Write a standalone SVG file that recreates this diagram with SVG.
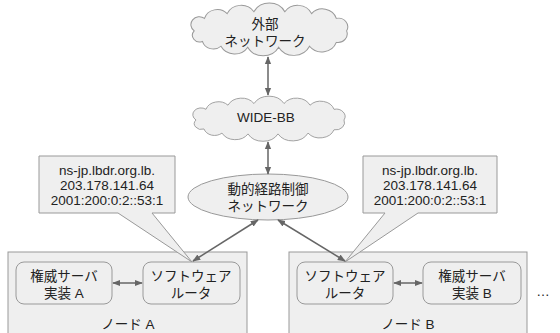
<svg xmlns="http://www.w3.org/2000/svg" width="560" height="333" viewBox="0 0 560 333">
<style>
text{font-family:"Liberation Sans","Noto Sans CJK JP",sans-serif;font-size:13.5px;fill:#222;text-anchor:middle;dominant-baseline:central}
.shape{fill:#efefef;stroke:#999;stroke-width:1}
.inner{fill:#efefef;stroke:#999;stroke-width:1}
.conn{stroke:#666;stroke-width:1.5;fill:none;marker-start:url(#ah);marker-end:url(#ah)}
</style>
<defs>
<marker id="ah" viewBox="0 0 10 10" refX="9" refY="5" markerWidth="8" markerHeight="8" markerUnits="userSpaceOnUse" orient="auto-start-reverse">
<path d="M0,1 L10,5 L0,9 Z" fill="#666"/>
</marker>
<path id="cloud" d="M6,28 A8,8 0 0 1 16,15 A13,13 0 0 1 38,10 A15,15 0 0 1 64,8 A17,17 0 0 1 94,8 A15,15 0 0 1 120,10 A14,14 0 0 1 144,15 A9,9 0 0 1 154,28 A9,9 0 0 1 144,40 A15,15 0 0 1 118,44 A17,17 0 0 1 88,45 A17,17 0 0 1 58,45 A15,15 0 0 1 32,44 A11,11 0 0 1 14,39 A7,7 0 0 1 6,28 Z"/>
</defs>
<g id="node-a">
<rect class="shape" x="8" y="252" width="239" height="90"/>
<text x="128" y="324">ノード A</text>
</g>
<g id="node-b">
<rect class="shape" x="289" y="252" width="238" height="90"/>
<text x="408" y="324">ノード B</text>
</g>
<g id="external">
<use href="#cloud" class="shape" transform="translate(188,4) scale(1.03,0.96)"/>
<text x="265" y="24">外部</text>
<text x="265" y="41">ネットワーク</text>
</g>
<g id="wide-bb">
<use href="#cloud" class="shape" transform="translate(190,97) scale(1.0,0.82)"/>
<text x="266" y="117">WIDE-BB</text>
</g>
<g id="dynamic">
<ellipse class="shape" cx="268" cy="197" rx="80" ry="23"/>
<text x="268" y="189">動的経路制御</text>
<text x="268" y="206">ネットワーク</text>
</g>
<g id="callout-a">
<path class="shape" d="M39,156 H175 V213 H152 L192,262 L118,213 H39 Z"/>
<text x="107" y="170">ns-jp.lbdr.org.lb.</text>
<text x="107" y="185">203.178.141.64</text>
<text x="107" y="200">2001:200:0:2::53:1</text>
</g>
<g id="callout-b">
<path class="shape" d="M363,156 H497 V213 H418 L345,262 L385,213 H363 Z"/>
<text x="430" y="170">ns-jp.lbdr.org.lb.</text>
<text x="430" y="185">203.178.141.64</text>
<text x="430" y="200">2001:200:0:2::53:1</text>
</g>
<g id="auth-a">
<rect class="inner" x="16" y="262" width="96" height="42" rx="8"/>
<text x="64" y="276">権威サーバ</text>
<text x="64" y="293">実装 A</text>
</g>
<g id="router-a">
<rect class="inner" x="143" y="262" width="97" height="42" rx="8"/>
<text x="191" y="276">ソフトウェア</text>
<text x="191" y="293">ルータ</text>
</g>
<g id="router-b">
<rect class="inner" x="297" y="262" width="96" height="42" rx="8"/>
<text x="345" y="276">ソフトウェア</text>
<text x="345" y="293">ルータ</text>
</g>
<g id="auth-b">
<rect class="inner" x="423" y="262" width="98" height="42" rx="8"/>
<text x="472" y="276">権威サーバ</text>
<text x="472" y="293">実装 B</text>
</g>
<g id="more">
<text x="543" y="291">…</text>
</g>
<g id="connectors">
<line class="conn" x1="268" y1="57" x2="268" y2="95"/>
<line class="conn" x1="268" y1="142" x2="268" y2="174"/>
<line class="conn" x1="258" y1="220" x2="193" y2="261"/>
<line class="conn" x1="278" y1="220" x2="345" y2="261"/>
<line class="conn" x1="113" y1="283" x2="142" y2="283"/>
<line class="conn" x1="394" y1="283" x2="422" y2="283"/>
</g>
</svg>
